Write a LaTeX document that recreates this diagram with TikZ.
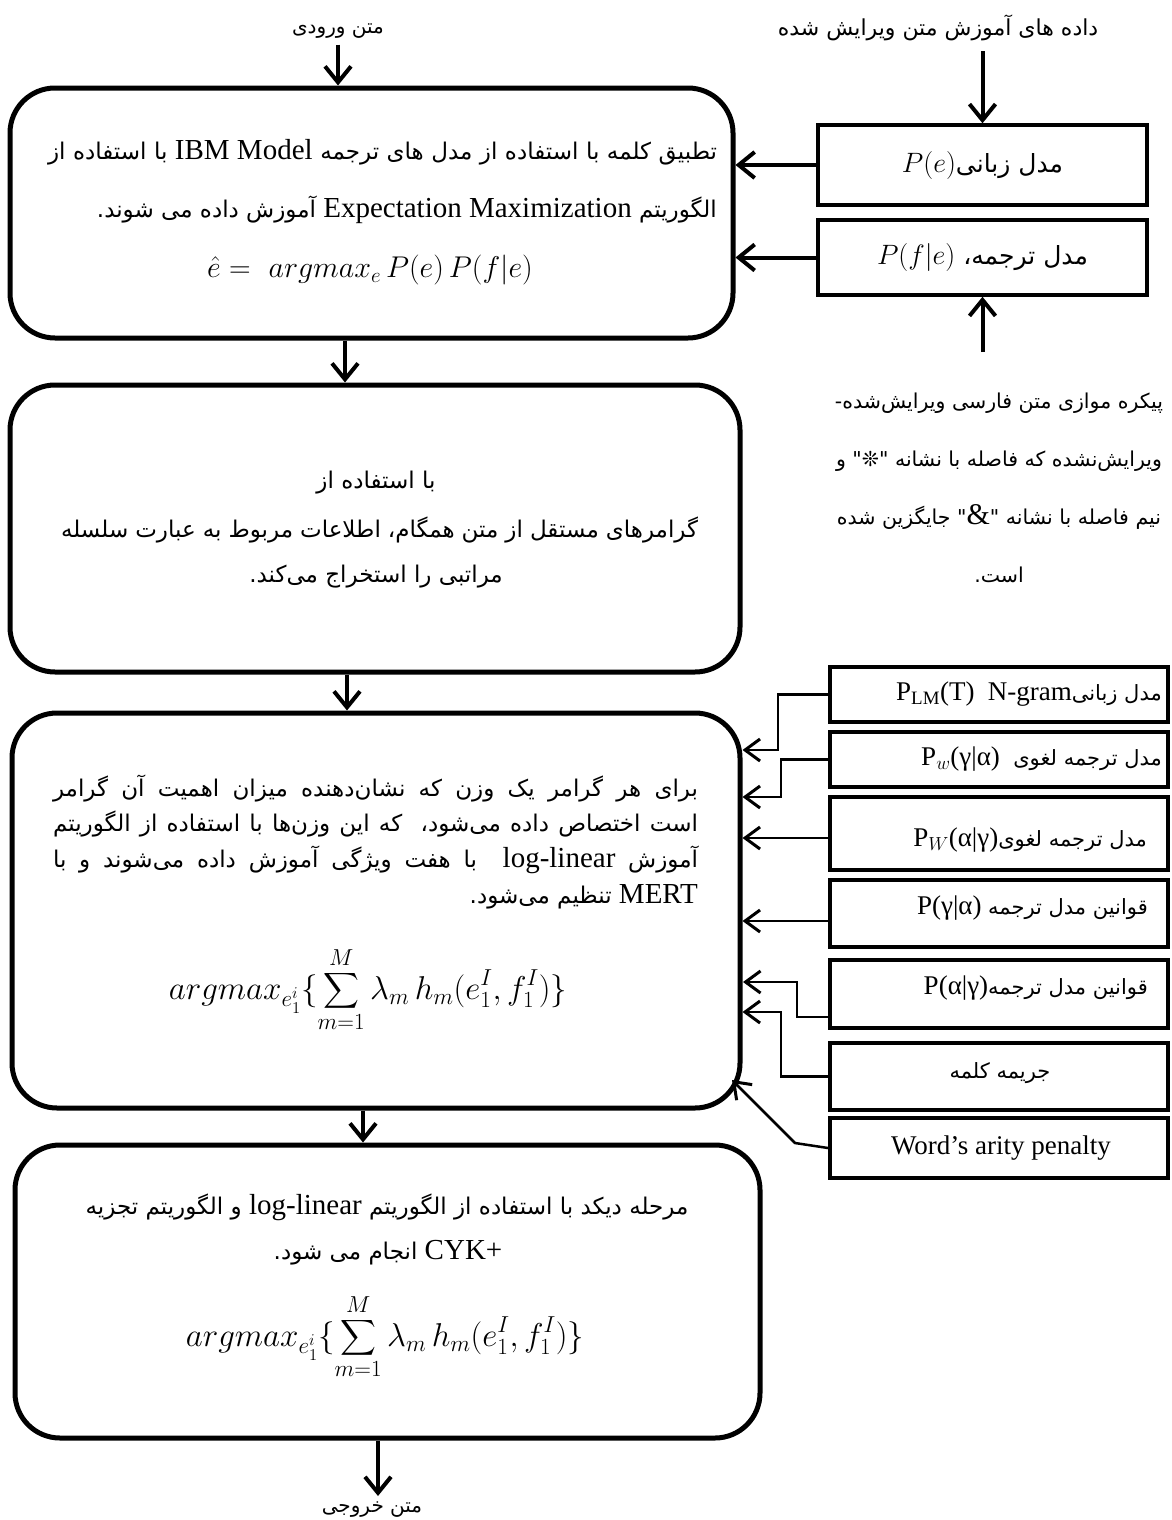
\RequirePackage{fix-cm}
\documentclass[tikz,border=0pt]{standalone}
\usepackage{amsmath}
\usepackage{exscale}
\usepackage{fontspec}
\usetikzlibrary{arrows.meta}
\TeXXeTstate=1
\newfontfamily\fa[Script=Arabic]{DejaVu Sans}
\newfontfamily\en{Liberation Serif}
\newcommand\fsz[1]{\fontsize{#1}{#1}\selectfont}
\newcommand\RL[1]{\beginR #1\endR}
\newcommand\EN[2][29]{\hbox{\beginL\en\fsz{#1}#2\endL}}
\newcommand\JL[2]{\makebox[#1][s]{\beginR #2\endR}}
\tikzset{
  bigbox/.style={draw, line width=5pt, rounded corners=45pt, inner sep=0pt},
  sbox/.style={draw, line width=4pt, inner sep=0pt},
  txt/.style={inner sep=0pt, font=\fa\fsz{23}},
  small/.style={inner sep=0pt, font=\fa\fsz{21}},
  big/.style={line width=4pt, -{Straight Barb[length=16pt,width=26pt]}},
  conn/.style={line width=2.5pt, -{Straight Barb[length=15pt,width=22pt,line width=3pt]}},
}
\begin{document}
\begin{tikzpicture}[x=1pt,y=-1pt]
\useasboundingbox (0,0) rectangle (1171,1520);

% main process boxes
\node[bigbox, minimum width=723, minimum height=250] (b1) at (371.5,213) {};
\node[bigbox, minimum width=730, minimum height=287] (b2) at (375,528.5) {};
\node[bigbox, minimum width=728, minimum height=395] (b3) at (376,910.5) {};
\node[bigbox, minimum width=745, minimum height=293] (b4) at (387.5,1291.5) {};

% model boxes, upper right
\node[sbox, line width=3.5pt, minimum width=329, minimum height=80] (r1) at (982.5,165) {};
\node[sbox, line width=3.5pt, minimum width=329, minimum height=75] (r2) at (982.5,257.5) {};

% feature boxes, lower right
\node[sbox, minimum width=338, minimum height=55] (s1) at (999,694.5) {};
\node[sbox, minimum width=338, minimum height=55] (s2) at (999,759.5) {};
\node[sbox, minimum width=338, minimum height=73] (s3) at (999,833.5) {};
\node[sbox, minimum width=338, minimum height=67] (s4) at (999,913.5) {};
\node[sbox, minimum width=338, minimum height=68] (s5) at (999,994) {};
\node[sbox, minimum width=338, minimum height=67] (s6) at (999,1076.5) {};
\node[sbox, minimum width=338, minimum height=60] (s7) at (999,1148) {};

% labels outside the boxes
\node[txt] (lin) at (338,31) {\fsz{20}\RL{متن ورودی}};
\node[txt] (dl) at (938,28) {\fsz{22}\RL{داده های آموزش متن ویرایش شده}};
\node[txt] (lout) at (372,1510) {\fsz{20}\RL{متن خروجی}};
\node[txt, align=center, font=\fa\fontsize{20.5}{58}\selectfont] (corp) at (999,487.5)
  {\RL{پیکره موازی متن فارسی ویرایش‌شده-}\\
   \RL{ویرایش‌نشده که فاصله با نشانه "❊" و}\\
   \RL{نیم فاصله با نشانه "\EN[30]{\&}" جایگزین شده}\\
   \RL{است.}};

% box 1
\node[txt] (t1a) at (382.5,152) {\JL{669pt}{تطبیق کلمه با استفاده از مدل های ترجمه \EN{IBM Model} با استفاده از}};
\node[txt, anchor=east] (t1b) at (717,210) {\RL{الگوریتم \EN{Expectation Maximization} آموزش داده می شوند.}};
\node[txt] (f1) at (370,270) {\fsz{30}$\hat{e} =\ argmax_e\,P(e)\,P(f|e)$};

% box 2
\node[txt] (t2a) at (376,483) {\RL{با استفاده از}};
\node[txt] (t2b) at (379.5,530) {\JL{637pt}{گرامرهای مستقل از متن همگام، اطلاعات مربوط به عبارت سلسله}};
\node[txt] (t2c) at (376,577) {\RL{مراتبی را استخراج می‌کند.}};

% box 3
\node[txt] (t3a) at (375.5,788) {\JL{645pt}{برای هر گرامر یک وزن که نشان‌دهنده میزان اهمیت آن گرامر}};
\node[txt] (t3b) at (375.5,824) {\JL{645pt}{است اختصاص داده می‌شود،\ \ که این وزن‌ها با استفاده از الگوریتم}};
\node[txt] (t3c) at (375.5,860) {\JL{645pt}{آموزش \EN{log-linear}\ \ با هفت ویژگی آموزش داده می‌شوند و با}};
\node[txt, anchor=east] (t3d) at (698,897) {\RL{\EN{MERT} تنظیم می‌شود.}};
\node[txt] (f3) at (368,990) {\fsz{33}$\displaystyle argmax_{e_1^i}\{\sum_{m=1}^{M}\lambda_m\,h_m(e_1^I,f_1^I)\}$};

% box 4
\node[txt] (t4a) at (387,1207) {\RL{مرحله دیکد با استفاده از الگوریتم \EN{log-linear} و الگوریتم تجزیه}};
\node[txt] (t4b) at (388,1253) {\RL{\EN{CYK+} انجام می شود.}};
\node[txt] (f4) at (385,1337) {\fsz{33}$\displaystyle argmax_{e_1^i}\{\sum_{m=1}^{M}\lambda_m\,h_m(e_1^I,f_1^I)\}$};

% texts of the model boxes
\node[txt] (e1) at (982.5,165) {\fsz{25}\RL{مدل زبانی\hbox{\fsz{28}$P(e)$}}};
\node[txt] (e2) at (982.5,257.5) {\fsz{25}\RL{مدل ترجمه، \hbox{\fsz{28}$P(f|e)$}}};

% texts of the feature boxes
\node[small, anchor=east] (q1) at (1162,694) {\RL{مدل زبانی\EN[27]{N-gram}\ \ \EN[27]{P\textsubscript{LM}(T)}}};
\node[small, anchor=east] (q2) at (1162,759) {\RL{مدل ترجمه لغوی\ \ \EN[27]{P$_w$(γ|α)}}};
\node[small, anchor=east] (q3) at (1147,840) {\RL{مدل ترجمه لغوی\EN[27]{P$_W$(α|γ)}}};
\node[small, anchor=east] (q4) at (1148,908) {\RL{قوانین مدل ترجمه \EN[27]{P(γ|α)}}};
\node[small, anchor=east] (q5) at (1148,988) {\RL{قوانین مدل ترجمه\EN[27]{P(α|γ)}}};
\node[small] (q6) at (1000,1073) {\RL{جریمه کلمه}};
\node[small] (q7) at (1001,1148) {\EN[27]{Word’s arity penalty}};

% main flow
\draw[big, shorten <=6pt] (lin.south) -- (lin.south |- b1.north);
\draw[big] (b1.south -| 345,0) -- (b2.north -| 345,0);
\draw[big] (b2.south -| 347,0) -- (b3.north -| 347,0);
\draw[big] (b3.south -| 363,0) -- (b4.north -| 363,0);
\draw[big, shorten >=6pt] (b4.south -| 378,0) -- (lout.north -| 378,0);

% training data into the models
\draw[big, shorten <=10pt] (dl.south -| r1.north) -- (r1.north);
\coordinate (cp) at (982.5,352);
\draw[big] (cp) -- (r2.south);
\draw[big] (r1.west) -- (b1.east |- r1.west);
\draw[big] (r2.west) -- (b1.east |- r2.west);

% features into the log-linear model
\draw[conn] (s1.west) -- ++(-50,0) |- (b3.east |- 0,750);
\draw[conn] (s2.west) -- ++(-47,0) |- (b3.east |- 0,797);
\draw[conn] (s3.west |- 0,838) -- (b3.east |- 0,838);
\draw[conn] (s4.west |- 0,921) -- (b3.east |- 0,921);
\draw[conn] (s5.west |- 0,1017) -- (797,1017) |- (743,982);
\draw[conn] (s6.west) -- ++(-47,0) |- (b3.east |- 0,1012);
\draw[conn] (s7.west) -- (795,1143) -- (732,1080);
\end{tikzpicture}
\end{document}
